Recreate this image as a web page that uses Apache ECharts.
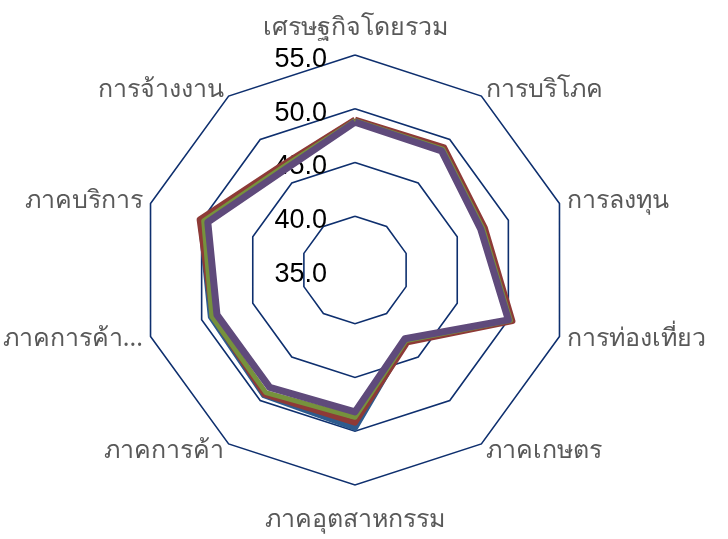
<!DOCTYPE html>
<html>
<head>
<meta charset="utf-8">
<script src="https://cdn.jsdelivr.net/npm/echarts@6/dist/echarts.min.js"></script>
<style>html,body{margin:0;padding:0;background:#fff;}#c{width:728px;height:539px;}</style>
</head>
<body>
<div id="c"></div>
<script>
// Categories in clockwise order starting from the top
const categories = ['เศรษฐกิจโดยรวม','การบริโภค','การลงทุน','การท่องเที่ยว','ภาคเกษตร','ภาคอุตสาหกรรม','ภาคการค้า','ภาคการค้า...','ภาคบริการ','การจ้างงาน'];
const seriesNames = ['ชุดที่ 1','ชุดที่ 2','ชุดที่ 3','ชุดที่ 4'];
const seriesBlue   = [48.8, 48.8, 47.5, 50.2, 43.1, 49.7, 49.4, 49.1, 50.1, 46.8];
const seriesRed    = [49.0, 49.1, 47.7, 50.4, 43.3, 49.2, 49.3, 48.9, 50.2, 46.9];
const seriesGreen  = [48.9, 48.9, 47.5, 50.2, 43.1, 48.7, 49.1, 49.0, 49.8, 46.7];
const seriesPurple = [48.75, 48.7, 47.3, 50.0, 42.9, 48.2, 48.5, 48.5, 49.4, 46.4];
const axisMin = 35, axisMax = 55;

// ECharts radar lays indicators counter-clockwise: reorder
function ccw(arr){ return [arr[0]].concat(arr.slice(1).reverse()); }

const colors = ['#2E5B8E','#8E3A37','#76923C','#5F4A7B'];
const widths = [6, 6, 5, 7];
const allData = [seriesBlue, seriesRed, seriesGreen, seriesPurple];

const indicator = ccw(categories).map((n, i) => {
  const o = {name: n, min: axisMin, max: axisMax};
  if (i === 0) {
    o.axisLabel = {show: true};
    o.nameGap = 15;
  }
  if (n === 'ภาคอุตสาหกรรม') o.nameGap = 22;
  return o;
});

const chart = echarts.init(document.getElementById('c'), null, {renderer: 'canvas'});
chart.setOption({
  animation: false,
  radar: {
    center: [355, 270],
    radius: 215,
    startAngle: 90,
    shape: 'polygon',
    splitNumber: 4,
    indicator: indicator,
    nameGap: 8,
    axisName: {color: '#595959', fontSize: 25, fontFamily: 'Noto Sans, sans-serif'},
    splitLine: {lineStyle: {color: '#0E2F6E', width: 1.6}},
    splitArea: {show: false},
    axisLine: {show: false},
    axisTick: {show: false},
    axisLabel: {
      show: false,
      color: '#000',
      fontSize: 27,
      fontFamily: 'Liberation Sans, sans-serif',
      margin: 28,
      formatter: v => '{a|' + Number(v).toFixed(1) + '}',
      rich: {
        a: {color: '#000', fontSize: 27, fontFamily: 'Liberation Sans, sans-serif', padding: [9, 0, 0, 0]}
      }
    }
  },
  series: allData.map((d, i) => ({
    type: 'radar',
    name: seriesNames[i],
    symbol: 'none',
    z: 2 + i,
    lineStyle: {color: colors[i], width: widths[i]},
    itemStyle: {color: colors[i]},
    data: [{value: ccw(d), name: seriesNames[i]}]
  }))
});
</script>
</body>
</html>
